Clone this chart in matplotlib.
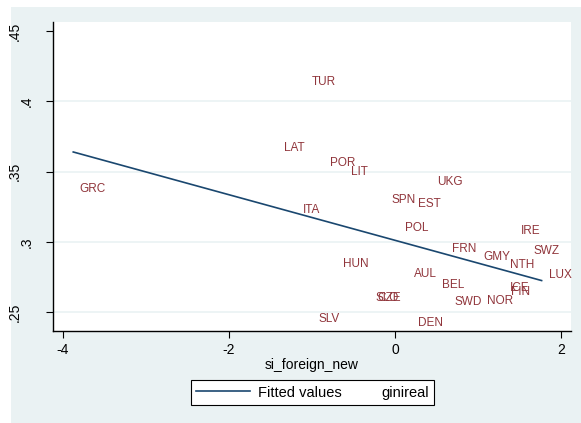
import numpy as np
import matplotlib.pyplot as plt
from matplotlib.lines import Line2D
from matplotlib.patches import Rectangle
from matplotlib.transforms import blended_transform_factory

plt.rcParams['font.family'] = ['Liberation Sans', 'DejaVu Sans']

# country labels, x = si_foreign_new, y = ginireal
countries = ['TUR', 'LAT', 'POR', 'LIT', 'GRC', 'UKG', 'SPN', 'EST', 'ITA', 'POL',
             'IRE', 'FRN', 'SWZ', 'GMY', 'HUN', 'NTH', 'AUL', 'LUX', 'BEL', 'ICE',
             'FIN', 'SLO', 'CZE', 'SWD', 'NOR', 'SLV', 'DEN']
si_foreign = [-1.05, -1.38, -0.82, -0.57, -3.85, 0.47, -0.08, 0.24, -1.15, 0.08,
              1.48, 0.65, 1.63, 1.02, -0.67, 1.34, 0.19, 1.81, 0.52, 1.34,
              1.35, -0.28, -0.25, 0.68, 1.07, -0.96, 0.23]
ginireal = [0.4137, 0.3668, 0.3563, 0.3497, 0.3376, 0.3426, 0.3298, 0.3270, 0.3227, 0.3099,
            0.3080, 0.2945, 0.2937, 0.2893, 0.2845, 0.2838, 0.2772, 0.2762, 0.2689, 0.2674,
            0.2639, 0.2601, 0.2601, 0.2573, 0.2582, 0.2449, 0.2425]

# fitted line endpoints
fit_x = [-3.876, 1.766]
fit_y = [0.3639, 0.2724]

xticks = [-4, -2, 0, 2]
yticks = [0.25, 0.3, 0.35, 0.4, 0.45]
ytick_labels = ['.25', '.3', '.35', '.4', '.45']

navy = '#1a476f'
maroon = '#90353b'
bgcol = '#eaf2f3'

fig = plt.figure(figsize=(5.81, 4.23), dpi=100)
fig.patch.set_facecolor('white')
fig.patches.append(Rectangle((11/581, 0), 1 - 11/581, 1 - 7/423,
                             transform=fig.transFigure, facecolor=bgcol,
                             edgecolor='none', zorder=-10))

ax = fig.add_axes([53/581, 1 - 331/423, (571 - 53)/581, (331 - 22)/423])
ax.set_facecolor('white')

for yt in yticks[:-1]:
    ax.axhline(yt, color=bgcol, lw=1.2, zorder=0)

ax.plot(fit_x, fit_y, color=navy, lw=1.2)

for name, x, y in zip(countries, si_foreign, ginireal):
    ax.annotate(name, (x, y), xytext=(2.5, 0), textcoords='offset points',
                ha='left', va='center', color=maroon, fontsize=8.5)

ax.set_xlim(-4.12, 2.12)
ax.set_ylim(0.2365, 0.4564)
ax.set_xticks(xticks)
ax.set_xticklabels(['-4', '-2', '0', '2'])
ax.set_yticks(yticks)
ax.set_yticklabels([])
ax.tick_params(axis='both', labelsize=10, length=5, width=0.8, color='black')

# stata-style vertical y labels (longer ones sit further left)
trans = blended_transform_factory(fig.transFigure, ax.transData)
for yt, lab in zip(yticks, ytick_labels):
    xpos = 15 if len(lab) == 3 else 27
    ax.text(xpos/581, yt, lab, transform=trans, rotation=90,
            ha='center', va='center', fontsize=10, clip_on=False)

ax.spines['top'].set_visible(False)
ax.spines['right'].set_visible(False)
ax.spines['left'].set_linewidth(1.0)
ax.spines['bottom'].set_linewidth(1.0)

ax.set_xlabel('si_foreign_new', fontsize=10, labelpad=0.5)

handles = [Line2D([], [], color=navy, lw=1.2),
           Line2D([], [], color='none', lw=0)]
leg = fig.legend(handles, ['Fitted values', 'ginireal'], ncol=2,
                 loc='center', bbox_to_anchor=(312.5/581, 1 - 392.5/423),
                 fontsize=10.5, frameon=True, fancybox=False, edgecolor='black',
                 framealpha=1, handlelength=3.7, columnspacing=-1.6,
                 handletextpad=0.55, borderpad=0.4, borderaxespad=0)
leg.get_frame().set_linewidth(0.8)

fig.savefig('out.png', dpi=100)
